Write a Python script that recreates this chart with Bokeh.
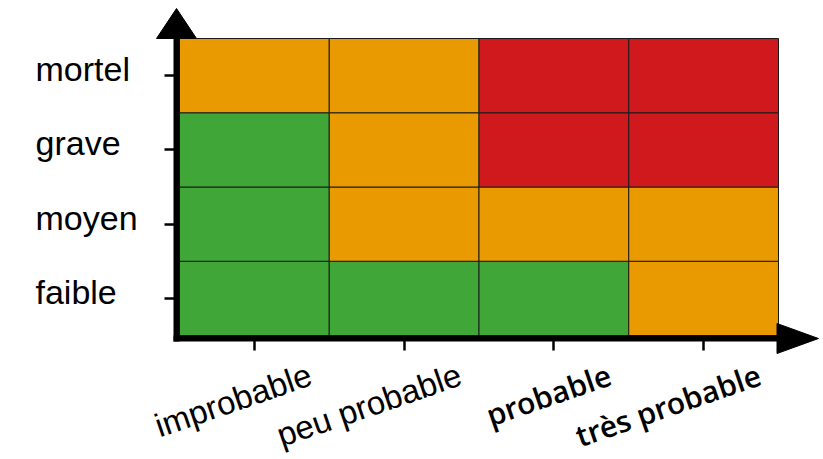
import math
from bokeh.plotting import figure
from bokeh.models import ColumnDataSource, FixedTicker, Range1d
from bokeh.embed import file_html
from bokeh.resources import INLINE
from bokeh.core.properties import value

# ---- data ----
likelihood = ["improbable", "peu probable", "probable", "très probable"]
severity = ["faible", "moyen", "grave", "mortel"]          # bottom -> top
# risk level for each severity row (bottom -> top) and likelihood column
risk = [
    ["low", "low", "low", "medium"],
    ["low", "medium", "medium", "medium"],
    ["low", "medium", "high", "high"],
    ["medium", "medium", "high", "high"],
]
level_colors = {"low": "#40A637", "medium": "#E99A00", "high": "#D0191C"}
x_label_fonts = ["Liberation Sans", "Liberation Sans",
                 "Open Sans SemiBold, Open Sans", "Open Sans SemiBold, Open Sans"]
x_label_sizes = ["33px", "33px", "30px", "30px"]

# ---- layout (pixels) ----
W, H = 820, 458
cell_l, cell_r, cell_t, cell_b = 179, 778, 38, 335
ncol, nrow = len(likelihood), len(severity)
px_x = (cell_r - cell_l) / ncol
px_y = (cell_b - cell_t) / nrow
x_start, x_end = -cell_l / px_x, (W - cell_l) / px_x
y_start, y_end = -(H - cell_b) / px_y, nrow + cell_t / px_y
spine = 6
sx_axis = -(spine / 2) / px_x      # x of the vertical spine centre
sy_axis = -(spine / 2) / px_y      # y of the horizontal spine centre

xs, ys, cols = [], [], []
for r, row in enumerate(risk):
    for c, lvl in enumerate(row):
        xs.append(c + 0.5)
        ys.append(r + 0.5)
        cols.append(level_colors[lvl])
cells = ColumnDataSource(dict(x=xs, y=ys, color=cols))

p = figure(width=W, height=H, output_backend="svg", toolbar_location=None,
           title=None, x_range=Range1d(x_start, x_end), y_range=Range1d(y_start, y_end),
           min_border=0)
p.outline_line_color = None
p.grid.visible = False
p.background_fill_color = "white"
p.border_fill_color = "white"

p.rect(x="x", y="y", width=1, height=1, source=cells, fill_color="color",
       line_color="#1a1a1a", line_width=1)

xa, ya = p.xaxis[0], p.yaxis[0]
xa.fixed_location = sy_axis
xa.bounds = (sx_axis, ncol)
ya.fixed_location = sx_axis
ya.bounds = (sy_axis, nrow)
xa.ticker = FixedTicker(ticks=[i + 0.5 for i in range(ncol)])
ya.ticker = FixedTicker(ticks=[i + 0.5 for i in range(nrow)])
xa.major_label_overrides = {i + 0.5: "" for i in range(ncol)}
ya.major_label_overrides = {i + 0.5: "" for i in range(nrow)}
for ax in (xa, ya):
    ax.axis_line_width = spine
    ax.axis_line_color = "black"
    ax.axis_line_cap = "square"
    ax.major_tick_in = 0
    ax.major_tick_out = 12
    ax.major_tick_line_width = 2.5
    ax.major_tick_line_color = "black"
    ax.minor_tick_line_color = None

# arrow heads
top_w, top_l = 20 / px_x, 30 / px_y
right_w, right_l = 15 / px_y, 40 / px_x
p.patches(xs=[[sx_axis - top_w, sx_axis + top_w, sx_axis],
              [ncol - 0.01, ncol - 0.01, ncol + right_l]],
          ys=[[nrow, nrow, nrow + top_l],
              [sy_axis - right_w, sy_axis + right_w, sy_axis]],
          fill_color="black", line_color="black", line_width=1)

# y labels (left aligned)
p.text(x=[0] * nrow, y=[i + 0.5 for i in range(nrow)], text=severity,
       x_offset=-144, y_offset=-6.5, text_align="left", text_baseline="alphabetic",
       text_font=value("Liberation Sans"), text_font_size="34px", text_color="black")

# x labels (rotated, right aligned on the baseline)
theta = math.radians(19)
xl = ColumnDataSource(dict(x=[i + 0.5 for i in range(ncol)], y=[0] * ncol, text=likelihood,
                           font=x_label_fonts, size=x_label_sizes))
p.text(x="x", y="y", text="text", source=xl, x_offset=56, y_offset=38, angle=theta,
       text_align="right", text_baseline="alphabetic", text_font="font",
       text_font_size="size", text_color="black")

open("out.html", "w").write(file_html(p, INLINE))
